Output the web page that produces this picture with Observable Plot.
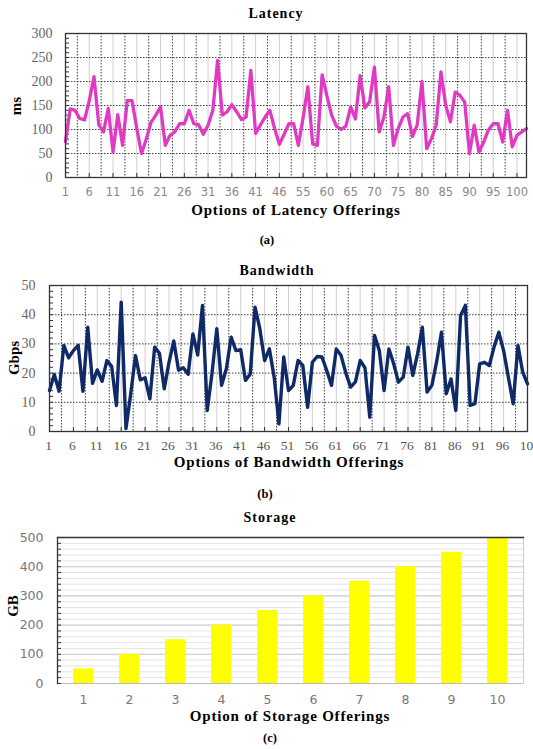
<!DOCTYPE html>
<html><head><meta charset="utf-8">
<script src="https://cdn.jsdelivr.net/npm/d3@7"></script>
<script src="https://cdn.jsdelivr.net/npm/@observablehq/plot@0.6"></script>
<style>
html,body{margin:0;padding:0;background:#fff;overflow:hidden;}
#wrap{position:relative;width:533px;height:749px;background:#fff;}
.panel{position:absolute;left:0;}
.t{position:absolute;transform:translate(-50%,-50%);white-space:nowrap;font-family:"Liberation Serif","Times New Roman",serif;font-weight:bold;color:#000;line-height:1;}
.title{font-size:14px;letter-spacing:1px;}
.xl{font-size:15px;letter-spacing:0.8px;}
.yl{font-size:15px;transform:translate(-50%,-50%) rotate(-90deg);}
.cap{font-size:12.5px;}
</style></head><body><div id="wrap"></div>
<script>
// ---- data ----
const latency = [75,143,140,123,120,160,210,110,95,144,53,131,67,160,160,102,50,80,115,130,
  147,67,88,95,112,112,140,112,110,90,109,140,244,130,137,152,137,121,126,223,
  92,109,126,140,102,69,90,112,112,67,125,189,70,67,214,170,130,107,100,107,
  147,122,212,145,158,230,95,126,189,67,102,126,133,85,109,200,60,81,109,220,
  150,116,178,171,157,50,109,53,74,99,112,112,74,140,64,88,95,102];
const latencyTickLabels = ["1","6","11","16","21","26","31","36","41","46","55","60","65","70","75","80","85","90","95","100"];

const bandwidth = [14,19.5,13.8,29.5,25.2,27.7,29.5,13.8,35.7,16.5,21.1,17.2,24.3,22.3,8.9,44.3,1,13,26,17.7,
  18.4,11.2,28.9,26.8,14.6,23.7,31,21,21.8,19.6,33.4,26.2,43.2,7.2,20,35.2,15.8,21.5,32.3,27.7,
  28,17.5,19.7,42.6,35.2,24.3,28.3,18.6,2.6,25.5,14,15.8,24.3,22.6,8.3,23.7,25.7,25.5,20.9,15.8,
  28.3,26,20,15.2,17,24.3,21.8,4.9,32.9,27.7,14,28.3,23.2,16.9,18.6,28.9,19.2,26.6,35.7,13.5,
  15.8,24,34,12.9,18,7.2,39.7,43.2,8.9,9.5,23.2,23.7,22.6,28.9,34,27.7,18.6,9.5,29.5,20.3,16.3];
// last label shows only "10" at the right edge, as in the reference
const bandwidthTickLabels = ["1","6","11","16","21","26","31","36","41","46","51","56","61","66","71","76","81","86","91","96","10"];

const storageOptions = ["1","2","3","4","5","6","7","8","9","10"];
const storageGB = [50,100,150,200,250,300,350,400,450,500];

const latencyTicksY = [0,50,100,150,200,250,300];
const bandwidthTicksY = [0,10,20,30,40,50];
const storageTicksY = [0,100,200,300,400,500];

// ---- helpers ----
const W = 533;
const wrap = document.getElementById("wrap");
function addText(txt, cls, x, y){
  const d = document.createElement("div");
  d.className = "t " + cls; d.textContent = txt;
  d.style.left = x + "px"; d.style.top = y + "px";
  wrap.appendChild(d);
}
function place(svg, top){
  const p = document.createElement("div");
  p.className = "panel"; p.style.top = top + "px";
  p.appendChild(svg); wrap.appendChild(p);
}
const dotted = {stroke:"#2a2a2a", strokeOpacity:0.9, strokeDasharray:"1.5,1.5"};
const light = {stroke:"#cfcfcf", strokeOpacity:1};

// ---- Panel (a) Latency ----
{
  const H = 250, mt = 33, mb = 73, ml = 65, mr = 7;
  const data = latency.map((v,i)=>({opt:i+1, ms:v}));
  const n = latency.length;
  const tickPos = latencyTickLabels.map((_,i)=>1+5*i);
  const svg = Plot.plot({
    width: W, height: H, marginTop: mt, marginBottom: mb, marginLeft: ml, marginRight: mr,
    style: {background:"transparent"},
    x: {domain:[1,n]},
    y: {domain:[0,300]},
    marks: [
      Plot.gridX(d3.range(6, n, 5), light),
      Plot.gridX(d3.range(3.5, n, 5), dotted),
      Plot.gridY(latencyTicksY.slice(1,-1), dotted),
      Plot.tickY(d3.range(0,301,10), {y:d=>d, stroke:"#333", insetRight: W-ml-mr-4}),
      Plot.tickX(tickPos, {x:d=>d, stroke:"#333", insetTop: H-mt-mb-4}),
      Plot.line(data, {x:"opt", y:"ms", stroke:"#e03ac2", strokeWidth:3.3, strokeLinejoin:"round"}),
      Plot.frame({stroke:"#333", strokeWidth:1.3}),
      Plot.axisY({ticks: latencyTicksY, tickSize:0, tickPadding:13, fontFamily:"Liberation Serif", fontSize:14, fill:"#666", label:null}),
      Plot.axisX({ticks: tickPos, tickFormat: d=>latencyTickLabels[tickPos.indexOf(d)], tickSize:0, tickPadding:10, fontFamily:"DejaVu Sans", fontSize:11.5, fill:"#888", label:null})
    ]
  });
  place(svg, 0);
  addText("Latency","title",276,14);
  addText("ms","yl",16,106);
  addText("Options of Latency Offerings","xl",296,210);
  addText("(a)","cap",267,240);
}

// ---- Panel (b) Bandwidth ----
{
  const H = 250, mt = 35, mb = 69, ml = 49, mr = 6;
  const data = bandwidth.map((v,i)=>({opt:i+1, gbps:v}));
  const n = bandwidth.length;
  const tickPos = bandwidthTickLabels.map((_,i)=>1+5*i);
  const svg = Plot.plot({
    width: W, height: H, marginTop: mt, marginBottom: mb, marginLeft: ml, marginRight: mr,
    style: {background:"transparent"},
    x: {domain:[1,n]},
    y: {domain:[0,50]},
    marks: [
      Plot.gridX(d3.range(6, n, 5), light),
      Plot.gridX(d3.range(3.5, n, 5), dotted),
      Plot.gridY(bandwidthTicksY.slice(1,-1), dotted),
      Plot.tickY(d3.range(0,51,2), {y:d=>d, stroke:"#333", insetRight: W-ml-mr-4}),
      Plot.tickX(tickPos, {x:d=>d, stroke:"#333", insetTop: H-mt-mb-4}),
      Plot.line(data, {x:"opt", y:"gbps", stroke:"#0f2a66", strokeWidth:3.4, strokeLinejoin:"round"}),
      Plot.frame({stroke:"#333", strokeWidth:1.3}),
      Plot.axisY({ticks: bandwidthTicksY, tickSize:0, tickPadding:14, fontFamily:"Liberation Serif", fontSize:14, fill:"#666", label:null}),
      Plot.axisX({ticks: tickPos, tickFormat: d=>bandwidthTickLabels[tickPos.indexOf(d)], tickSize:0, tickPadding:9, fontFamily:"Liberation Serif", fontSize:13.5, fill:"#555", label:null, dx:-1})
    ]
  });
  place(svg, 250);
  addText("Bandwidth","title",277,271);
  addText("Gbps","yl",14,358);
  addText("Options of Bandwidth Offerings","xl",289,462);
  addText("(b)","cap",265,494);
}

// ---- Panel (c) Storage ----
{
  const H = 249, mt = 37, mb = 66, ml = 57, mr = 10;
  const data = storageOptions.map((o,i)=>({opt:o, gb:storageGB[i]}));
  const svg = Plot.plot({
    width: W, height: H, marginTop: mt, marginBottom: mb, marginLeft: ml, marginRight: mr,
    style: {background:"transparent"},
    x: {domain: storageOptions, paddingInner:0.57, paddingOuter:0.285},
    y: {domain:[0,500]},
    marks: [
      Plot.gridY(d3.range(20,500,20), {stroke:"#e4e4e4", strokeOpacity:1}),
      Plot.gridY(storageTicksY.slice(1,-1), {stroke:"#cccccc", strokeOpacity:1}),
      Plot.barY(data, {x:"opt", y:"gb", fill:"#ffff00"}),
      Plot.ruleY([0], {stroke:"#bbb"}),
      Plot.frame({anchor:"right", stroke:"#ccc"}),
      Plot.frame({anchor:"top", stroke:"#333", strokeWidth:1.3}),
      Plot.frame({anchor:"left", stroke:"#333", strokeWidth:1.3}),
      Plot.tickY(d3.range(0,501,20), {y:d=>d, stroke:"#333", insetRight: W-ml-mr-4}),
      Plot.axisY({ticks: storageTicksY, tickSize:0, tickPadding:14, fontFamily:"DejaVu Sans", fontSize:12.5, fill:"#777", label:null}),
      Plot.axisX({tickSize:0, tickPadding:12, fontFamily:"DejaVu Sans", fontSize:12.5, fill:"#777", label:null})
    ]
  });
  place(svg, 500);
  addText("Storage","title",270,518);
  addText("GB","yl",13,606);
  addText("Option of Storage Offerings","xl",290,716);
  addText("(c)","cap",270,738);
}
</script></body></html>
